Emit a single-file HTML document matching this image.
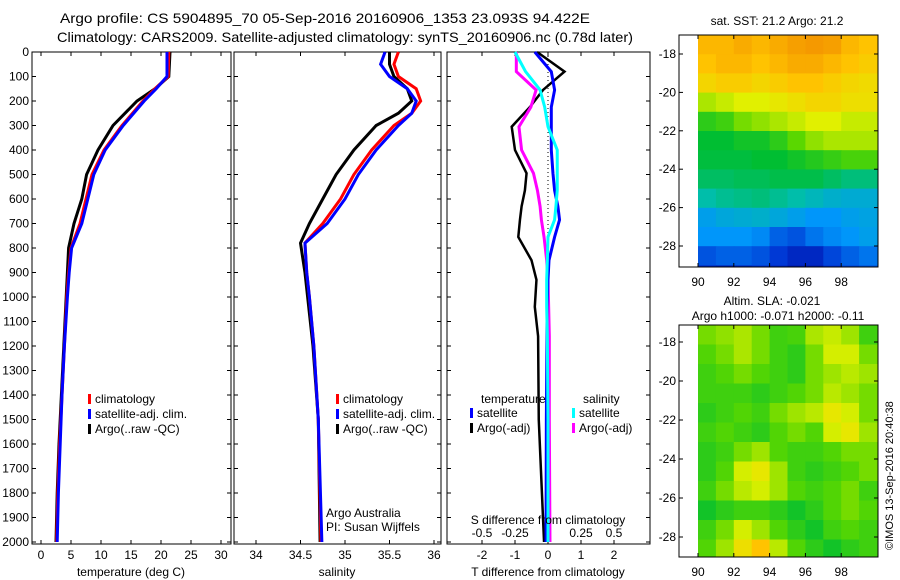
<!DOCTYPE html>
<html><head><meta charset="utf-8"><style>
body{margin:0;background:#fff;}
svg{display:block;font-family:"Liberation Sans",sans-serif;font-size:12px;}
</style></head><body>
<svg id="fig" width="900" height="580" viewBox="0 0 900 580">
<text x="325" y="23" text-anchor="middle" font-size="14" textLength="530" lengthAdjust="spacingAndGlyphs">Argo profile: CS 5904895_70 05-Sep-2016 20160906_1353 23.093S 94.422E</text>
<text x="345" y="42" text-anchor="middle" font-size="14" textLength="576" lengthAdjust="spacingAndGlyphs">Climatology: CARS2009. Satellite-adjusted climatology: synTS_20160906.nc (0.78d later)</text>
<g id="g1"></g>
<g id="g2"></g>
<g id="g3"></g>
<g id="m1"></g>
<g id="m2"></g>
<text transform="translate(893,550) rotate(-90)" font-size="11">©IMOS 13-Sep-2016 20:40:38</text>
</svg>
<script>
const depthTicks=[0,100,200,300,400,500,600,700,800,900,1000,1100,1200,1300,1400,1500,1600,1700,1800,1900,2000];
const tDepth=[0,100,150,200,300,400,500,600,700,800,900,1000,1200,1400,1600,1800,2000];
const tempClim=[21.3,21.2,19,17,13.5,10.5,8.5,7.5,6.5,5,4.6,4.3,3.9,3.5,3.1,2.8,2.6];
const tempSat=[21,21,19.2,17.2,13.7,10.7,8.8,7.8,6.8,5.1,4.7,4.4,3.9,3.5,3.2,2.9,2.7];
const tempArgo=[21.5,21.3,19,16,12,9.5,7.6,6.8,5.5,4.6,4.4,4.2,3.8,3.4,3.0,2.7,2.5];
const sDepth=[0,50,100,150,200,250,300,400,500,600,700,780,900,1000,1200,1500,2000];
const salClim=[35.6,35.55,35.6,35.8,35.85,35.75,35.55,35.3,35.1,34.95,34.75,34.55,34.57,34.6,34.65,34.7,34.73];
const salSat=[35.45,35.4,35.5,35.7,35.8,35.75,35.6,35.35,35.15,35,34.8,34.55,34.57,34.6,34.65,34.7,34.74];
const salArgo=[35.5,35.5,35.55,35.7,35.75,35.6,35.35,35.1,34.9,34.75,34.6,34.5,34.55,34.58,34.64,34.7,34.72];
const dDepth=[0,80,155,225,305,400,495,565,630,685,755,850,930,1040,1160,1500,2000];
const tDiffArgo=[-0.33,0.5,-0.15,-0.55,-1.1,-1.0,-0.65,-0.7,-0.8,-0.85,-0.9,-0.5,-0.35,-0.4,-0.3,-0.28,-0.12];
const tDiffSat=[-0.4,0.1,0.2,0.1,0.1,0.1,0.15,0.2,0.3,0.35,0.2,0.03,0.0,-0.03,-0.03,-0.05,-0.06];
const sDiffSat=[-0.25,-0.17,-0.06,-0.025,0.0,0.07,0.07,0.07,0.06,0.05,0.0,-0.005,-0.01,-0.01,-0.005,0,0.0];
const sDiffArgo=[-0.24,-0.24,-0.09,-0.13,-0.22,-0.2,-0.11,-0.08,-0.06,-0.05,-0.03,-0.01,0,0.005,0.01,0.01,0.015];
const tempTicks=[0,5,10,15,20,25,30], salTicks=[34,34.5,35,35.5,36], tdTicks=[-2,-1,0,1,2], sdTicks=[-0.5,-0.25,0,0.25,0.5];
const sstGrid=[
[.82,.82,.84,.82,.84,.86,.87,.86,.82,.80],[.80,.82,.82,.80,.82,.84,.84,.82,.80,.78],[.76,.78,.78,.76,.78,.80,.80,.78,.76,.75],
[.66,.68,.70,.70,.72,.74,.76,.76,.74,.74],[.55,.57,.62,.64,.66,.68,.70,.70,.68,.68],[.50,.50,.52,.52,.55,.60,.64,.66,.66,.66],
[.49,.49,.49,.50,.50,.52,.54,.56,.58,.58],[.46,.46,.47,.47,.48,.48,.48,.46,.44,.44],[.40,.42,.43,.44,.42,.40,.38,.36,.35,.35],
[.32,.34,.35,.36,.34,.32,.30,.30,.32,.33],[.30,.30,.30,.28,.22,.20,.25,.28,.30,.32],[.20,.22,.22,.20,.16,.12,.12,.18,.22,.25],
[.12,.10,.12,.15,.12,.08,.08,.15,.18,.20]];
const slaGrid=[
[.62,.64,.66,.62,.57,.58,.66,.68,.65,.57],[.59,.62,.66,.62,.57,.55,.62,.69,.69,.62],[.57,.59,.62,.59,.57,.55,.62,.65,.67,.65],
[.57,.57,.57,.55,.57,.59,.62,.67,.65,.62],[.55,.57,.59,.57,.62,.65,.67,.72,.69,.62],[.57,.59,.57,.55,.59,.62,.59,.69,.72,.65],
[.55,.57,.62,.65,.59,.57,.57,.59,.62,.62],[.55,.59,.69,.72,.65,.57,.55,.57,.59,.62],[.57,.62,.67,.69,.65,.59,.57,.59,.62,.57],
[.52,.55,.57,.57,.55,.52,.55,.59,.62,.59],[.57,.62,.69,.65,.59,.55,.52,.57,.59,.57],[.59,.65,.74,.80,.67,.59,.55,.52,.55,.57],
[.57,.62,.72,.78,.65,.57,.52,.52,.55,.57]];
const lonTicks=[90,92,94,96,98], latTicks=[-18,-20,-22,-24,-26,-28];

const NS='http://www.w3.org/2000/svg';
function mk(p,t,a){const e=document.createElementNS(NS,t);for(const k in a)e.setAttribute(k,a[k]);p.appendChild(e);return e;}
const Y=d=>52+d*0.245;
function box(g,x0,x1,y0,y1){mk(g,'rect',{x:x0,y:y0,width:x1-x0,height:y1-y0,fill:'none',stroke:'#000','stroke-width':1});}
function xticks(g,ticks,fx,y0,y1,ly,fmt){ticks.forEach(v=>{const x=fx(v);mk(g,'line',{x1:x,x2:x,y1:y1,y2:y1-4,stroke:'#000'});mk(g,'line',{x1:x,x2:x,y1:y0,y2:y0+4,stroke:'#000'});
 const t=mk(g,'text',{x:x,y:ly,'text-anchor':'middle'});t.textContent=fmt?fmt(v):v;});}
function ydticks(g,x0,x1,labels){depthTicks.forEach(d=>{const y=Y(d);mk(g,'line',{x1:x0,x2:x0+4,y1:y,y2:y,stroke:'#000'});mk(g,'line',{x1:x1,x2:x1-4,y1:y,y2:y,stroke:'#000'});
 if(labels){const t=mk(g,'text',{x:x0-3,y:y+4,'text-anchor':'end'});t.textContent=d;}});}
function line(g,xs,ds,fx,col,w,name){const p=mk(g,'polyline',{points:xs.map((v,i)=>fx(v)+','+Y(ds[i])).join(' '),fill:'none',stroke:col,'stroke-width':w});}
function legend(g,x,y,items){items.forEach((it,i)=>{mk(g,'rect',{x:x,y:y+i*15-9,width:3,height:10,fill:it[1]});const t=mk(g,'text',{x:x+7,y:y+i*15});t.textContent=it[0];});}
function txt(g,x,y,s,a,name){const t=mk(g,'text',{x:x,y:y,'text-anchor':a||'start'});t.textContent=s;return t;}

const g1=document.getElementById('g1');const fT=v=>41+v*6;
box(g1,32,231,52,544);ydticks(g1,32,231,true);xticks(g1,tempTicks,fT,52,544,559);
line(g1,tempArgo,tDepth,fT,'#000',3,'temp-argo-line');line(g1,tempClim,tDepth,fT,'#f00',3,'temp-clim-line');line(g1,tempSat,tDepth,fT,'#00f',3,'temp-sat-line');
legend(g1,88,403,[['climatology','#f00'],['satellite-adj. clim.','#00f'],['Argo(..raw -QC)','#000']]);
txt(g1,131,576,'temperature (deg C)','middle','x-axis-title');
const g2=document.getElementById('g2');const fS=v=>256+(v-34)*89;
box(g2,234,441,52,544);ydticks(g2,234,441,false);xticks(g2,salTicks,fS,52,544,559);
line(g2,salArgo,sDepth,fS,'#000',3,'sal-argo-line');line(g2,salClim,sDepth,fS,'#f00',3,'sal-clim-line');line(g2,salSat,sDepth,fS,'#00f',3,'sal-sat-line');
legend(g2,336,403,[['climatology','#f00'],['satellite-adj. clim.','#00f'],['Argo(..raw -QC)','#000']]);
txt(g2,326,517,'Argo Australia','start','credit-line-1');txt(g2,326,531,'PI: Susan Wijffels','start','credit-line-2');
txt(g2,337,576,'salinity','middle','x-axis-title');
const g3=document.getElementById('g3');const fD=v=>548+v*33;const fSD=v=>548+v*132;
box(g3,447,650,52,544);ydticks(g3,447,650,false);xticks(g3,tdTicks,fD,52,544,559);
sdTicks.forEach(v=>{txt(g3,fSD(v),537,String(v),'middle','s-tick-label');});
mk(g3,'line',{x1:548,x2:548,y1:52,y2:544,stroke:'#000','stroke-dasharray':'1,3'});
line(g3,tDiffArgo,dDepth,fD,'#000',2.5,'tdiff-argo-line');line(g3,sDiffArgo,dDepth,fSD,'#f0f',3,'sdiff-argo-line');
line(g3,tDiffSat,dDepth,fD,'#00f',3,'tdiff-sat-line');line(g3,sDiffSat,dDepth,fSD,'#0ff',3,'sdiff-sat-line');
txt(g3,481,403,'temperature','start','legend-title');txt(g3,583,403,'salinity','start','legend-title');
legend(g3,470,417,[['satellite','#00f'],['Argo(-adj)','#000']]);legend(g3,572,417,[['satellite','#0ff'],['Argo(-adj)','#f0f']]);
txt(g3,548,524,'S difference from climatology','middle','s-axis-title');
txt(g3,548,576,'T difference from climatology','middle','x-axis-title');
const stops=[[0,[0,0,130]],[0.15,[0,50,210]],[0.3,[0,150,250]],[0.4,[0,190,170]],[0.5,[0,190,50]],[0.6,[90,215,0]],[0.7,[225,240,0]],[0.8,[255,195,0]],[0.9,[240,135,0]],[1,[200,60,0]]];
function cmap(v){v=Math.max(0,Math.min(1,v));for(let i=1;i<stops.length;i++){if(v<=stops[i][0]){const a=stops[i-1],b=stops[i],f=(v-a[0])/(b[0]-a[0]);return 'rgb('+a[1].map((c,k)=>Math.round(c+(b[1][k]-c)*f)).join(',')+')';}}return 'rgb(200,60,0)';}
function map(id,grid,top,bot,lat18,lat28,title1,title2){const g=document.getElementById(id);const fx=v=>698+(v-90)*17.9;const ppd=(lat28-lat18)/10;const fy=v=>lat18+(-18-v)*ppd;
 const top0=-18+(lat18-top)/ppd;
 grid.forEach((row,r)=>row.forEach((v,c)=>{const y0=fy(top0-r),y1=Math.min(bot,fy(top0-r-1));if(y0>=bot)return;const e=mk(g,'rect',{x:fx(90+c),y:y0,width:18.4,height:y1-y0+0.4,fill:cmap(v)});}));
 box(g,679,878,top,bot);
 lonTicks.forEach(v=>{const x=fx(v);mk(g,'line',{x1:x,x2:x,y1:top,y2:top+4,stroke:'#000'});mk(g,'line',{x1:x,x2:x,y1:bot,y2:bot-4,stroke:'#000'});txt(g,x,bot+19,String(v),'middle','lon-tick-label');});
 latTicks.forEach(v=>{const y=fy(v);mk(g,'line',{x1:679,x2:683,y1:y,y2:y,stroke:'#000'});mk(g,'line',{x1:878,x2:874,y1:y,y2:y,stroke:'#000'});txt(g,676,y+4,String(v),'end','lat-tick-label');});
 if(title2){txt(g,772,top-20,title1,'middle','map-title');txt(g,778,top-5,title2,'middle','map-title');}else txt(g,777,top-10,title1,'middle','map-title');}
map('m1',sstGrid,35,267,54,246,'sat. SST: 21.2 Argo: 21.2');
map('m2',slaGrid,325,557,342,537,'Altim. SLA: -0.021','Argo h1000: -0.071 h2000: -0.11');
</script>
</body></html>
